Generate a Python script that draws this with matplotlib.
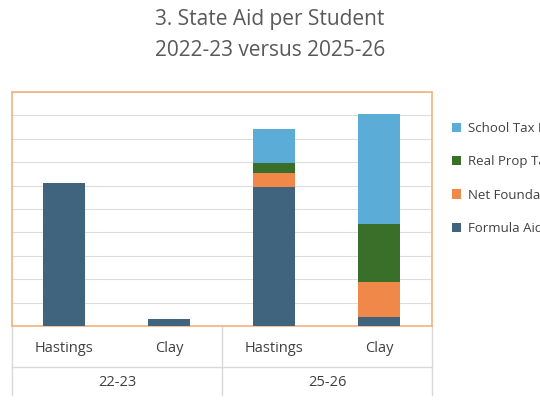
import matplotlib
matplotlib.use("Agg")
import matplotlib.pyplot as plt
from matplotlib.lines import Line2D

plt.rcParams['font.family'] = ['Open Sans', 'DejaVu Sans']

categories = ["Hastings", "Clay", "Hastings", "Clay"]
groups = ["22-23", "25-26"]
series = ["Formula Aid", "Net Foundation Aid", "Real Prop Tax Credit", "School Tax Relief"]
formula = [6.1, 0.3, 5.95, 0.4]
net_found = [0, 0, 0.6, 1.5]
real_prop = [0, 0, 0.4, 2.45]
school_tax = [0, 0, 1.45, 4.7]
colors = ["#41647E", "#F0884A", "#3A6F2A", "#5BACD6"]

fig = plt.figure(figsize=(5.4, 4.07), dpi=100)
ax = fig.add_axes([0.022, 0.199, 0.778, 0.575])
x = list(range(len(categories)))
bottom = [0]*4
handles = []
for vals, col, name in zip([formula, net_found, real_prop, school_tax], colors, series):
    b = ax.bar(x, vals, 0.4, bottom=bottom, color=col, label=name, zorder=3)
    handles.append(b)
    bottom = [a + v for a, v in zip(bottom, vals)]
ax.set_xlim(-0.5, 3.5)
ax.set_ylim(0, 10)
ax.set_yticks(range(0, 11))
ax.yaxis.grid(True, color="#DDDDDD", lw=0.8, zorder=0)
ax.tick_params(left=False, bottom=False, labelleft=False, labelbottom=False)
for s in ax.spines.values():
    s.set_color("#F4B183"); s.set_linewidth(1.2)

# category table below
for xi, c in zip(x, categories):
    ax.text(xi, -0.97, c, ha="center", va="center", fontsize=10.5, color="#404040",
            transform=ax.transData, clip_on=False)
for gi, g in enumerate(groups):
    ax.text(0.5 + 2*gi, -2.4, g, ha="center", va="center", fontsize=10.5, color="#404040",
            clip_on=False)
lc = "#D9D9D9"
for xv in [-0.5, 1.5, 3.5]:
    ax.add_line(Line2D([xv, xv], [0, -2.95], color=lc, lw=1, clip_on=False))
ax.add_line(Line2D([-0.5, 3.5], [-1.75, -1.75], color=lc, lw=1, clip_on=False))

fig.text(0.5, 0.952, "3. State Aid per Student", ha="center", va="center", fontsize=15, color="#595959")
fig.text(0.5, 0.877, "2022-23 versus 2025-26", ha="center", va="center", fontsize=15, color="#595959")

leg = fig.legend(handles[::-1], series[::-1], loc="upper left", bbox_to_anchor=(0.815, 0.73),
                 frameon=False, fontsize=9.5, labelspacing=1.55, handlelength=0.7,
                 handleheight=0.7, handletextpad=0.5)
for t in leg.get_texts():
    t.set_color("#404040")

fig.savefig("out.png", dpi=100)
